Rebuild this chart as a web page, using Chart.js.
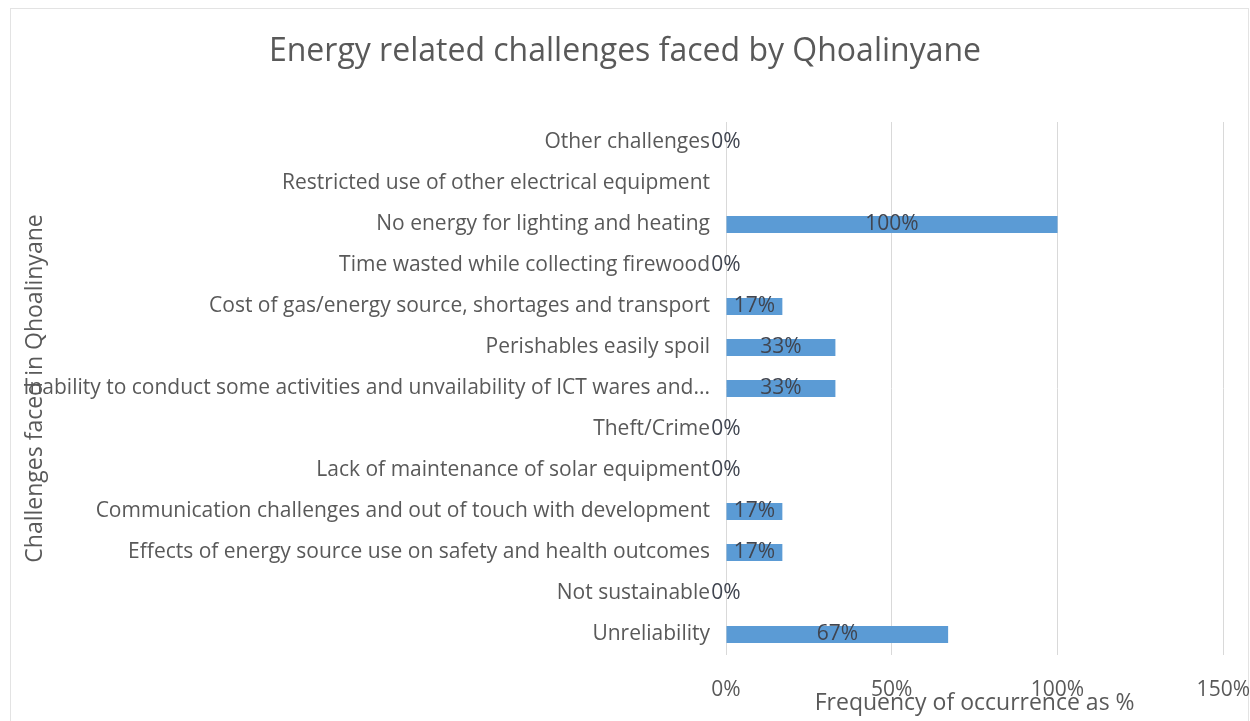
<!DOCTYPE html>
<html>
<head>
<meta charset="utf-8">
<script src="https://cdn.jsdelivr.net/npm/chart.js@4"></script>
<style>
  html, body { margin: 0; padding: 0; background: #fff; }
  #wrap { width: 1250px; height: 721px; }
</style>
</head>
<body>
<div id="wrap"><canvas id="chart" width="1250" height="721"></canvas></div>
<script>
const categories = [
  'Other challenges',
  'Restricted use of other electrical equipment',
  'No energy for lighting and heating',
  'Time wasted while collecting firewood',
  'Cost of gas/energy source, shortages and transport',
  'Perishables easily spoil',
  'Inability to conduct some activities and unvailability of ICT wares and...',
  'Theft/Crime',
  'Lack of maintenance of solar equipment',
  'Communication challenges and out of touch with development',
  'Effects of energy source use on safety and health outcomes',
  'Not sustainable',
  'Unreliability'
];
const frequency = [0, null, 100, 0, 17, 33, 33, 0, 0, 17, 17, 0, 67];
const xTicks = [0, 50, 100, 150];

const FONT = '"Open Sans", "Liberation Sans", sans-serif';
const GREY = '#595959';

// bar value labels, drawn at the middle of each bar
const barLabels = {
  id: 'barLabels',
  afterDatasetsDraw(chart) {
    const ctx = chart.ctx;
    const meta = chart.getDatasetMeta(0);
    ctx.save();
    ctx.font = '21px ' + FONT;
    ctx.fillStyle = '#404550';
    ctx.textAlign = 'center';
    ctx.textBaseline = 'middle';
    meta.data.forEach((bar, i) => {
      const v = frequency[i];
      if (v === null) return;
      const x = (bar.x + bar.base) / 2;
      ctx.fillText(v + '%', x, bar.y);
    });
    ctx.restore();
  }
};

// thin frame round the chart
const frame = {
  id: 'frame',
  beforeDraw(chart) {
    const ctx = chart.ctx;
    ctx.save();
    ctx.strokeStyle = '#E3E3E3';
    ctx.lineWidth = 1;
    ctx.strokeRect(10.5, 8.5, 1238, 740);
    ctx.restore();
  }
};

new Chart(document.getElementById('chart'), {
  type: 'bar',
  data: {
    labels: categories,
    datasets: [{
      data: frequency,
      backgroundColor: '#5B9BD5',
      categoryPercentage: 1,
      barPercentage: 0.41
    }]
  },
  options: {
    indexAxis: 'y',
    responsive: false,
    animation: false,
    layout: { padding: { left: 0, right: 0, top: 0, bottom: 0 } },
    plugins: {
      legend: { display: false },
      tooltip: { enabled: false },
      title: {
        display: true,
        text: 'Energy related challenges faced by Qhoalinyane',
        color: GREY,
        font: { family: FONT, size: 32, weight: 'normal' },
        padding: { top: 33, bottom: 50.6 }
      }
    },
    scales: {
      x: {
        min: 0,
        max: 150,
        afterBuildTicks(scale) { scale.ticks = xTicks.map(v => ({ value: v })); },
        afterFit(scale) { scale.height = 66; },
        grid: { color: '#D9D9D9', drawTicks: true, tickLength: 22, tickColor: 'rgba(0,0,0,0)' },
        border: { display: false },
        ticks: {
          color: GREY,
          padding: 0,
          font: { family: FONT, size: 21 },
          callback: v => v + '%'
        },
        title: {
          display: true,
          text: 'Frequency of occurrence as %',
          color: GREY,
          font: { family: FONT, size: 23 },
          padding: { top: 0, bottom: 4 }
        }
      },
      y: {
        afterFit(scale) { scale.width = 726; },
        grid: { display: false, drawTicks: false },
        border: { display: false },
        ticks: {
          color: GREY,
          padding: 16,
          autoSkip: false,
          font: { family: FONT, size: 21 }
        },
        title: {
          display: true,
          text: 'Challenges faced in Qhoalinyane',
          color: GREY,
          font: { family: FONT, size: 23 },
          padding: { top: 22, bottom: 0 }
        }
      }
    }
  },
  plugins: [frame, barLabels]
});
</script>
</body>
</html>
